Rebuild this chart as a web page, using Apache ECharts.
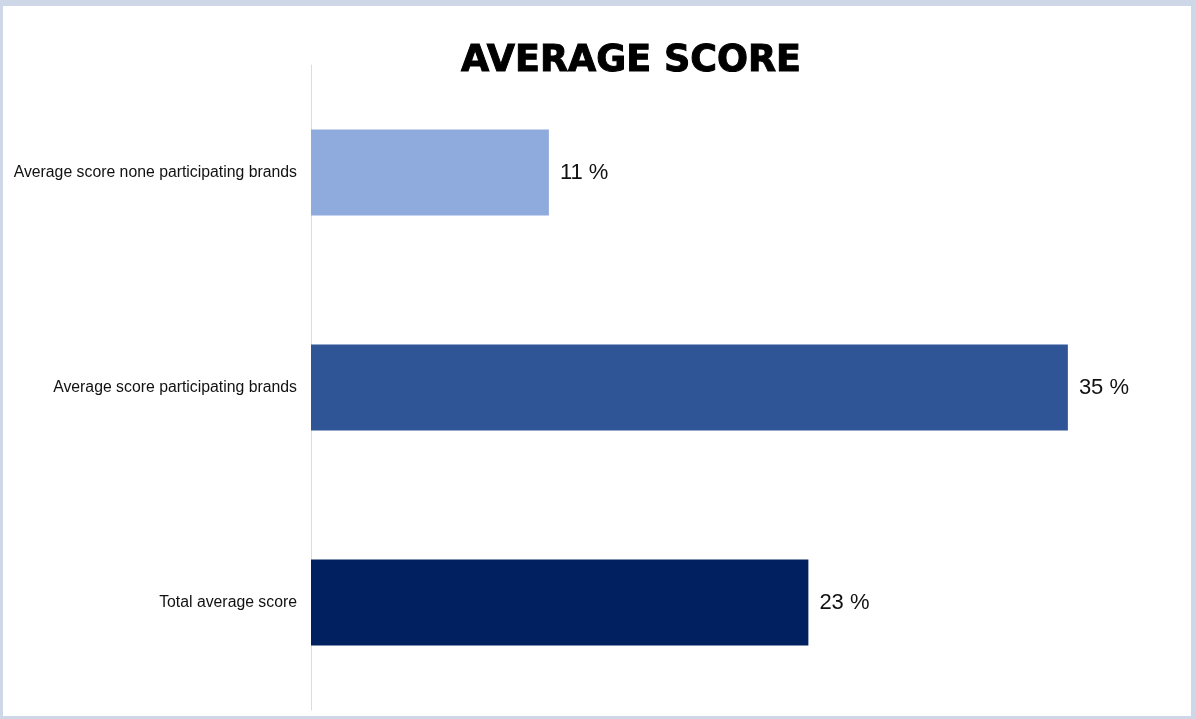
<!DOCTYPE html>
<html>
<head>
<meta charset="utf-8">
<script src="https://cdn.jsdelivr.net/npm/echarts@6/dist/echarts.min.js"></script>
<style>
  html, body { margin: 0; padding: 0; background: #fff; }
  #wrap { position: relative; width: 1196px; height: 719px; }
  #chart { position: absolute; left: 0; top: 0; width: 1196px; height: 719px; }
  #frame {
    position: absolute; left: 0; top: 0; width: 1196px; height: 719px;
    box-sizing: border-box; pointer-events: none;
    border-style: solid; border-color: #cdd7e7;
    border-width: 6px 5px 3px 3px;
  }
</style>
</head>
<body>
<div id="wrap">
  <div id="chart"></div>
  <div id="frame"></div>
</div>
<script>
// Categories listed top to bottom
const categories = [
  'Average score none participating brands',
  'Average score participating brands',
  'Total average score'
];
const scores = [11, 35, 23];
const barColors = ['#8faadc', '#2f5597', '#002060'];

const chart = echarts.init(document.getElementById('chart'), null, { renderer: 'canvas' });

chart.setOption({
  animation: false,
  backgroundColor: '#ffffff',
  title: {
    text: 'AVERAGE SCORE',
    left: 456,
    top: 38,
    textStyle: {
      fontFamily: 'DejaVu Sans, sans-serif',
      fontWeight: 'bold',
      fontSize: 36.5,
      color: '#000000',
      textBorderColor: '#000000',
      textBorderWidth: 1
    }
  },
  grid: { left: 311, top: 65, bottom: 9, width: 865, containLabel: false },
  xAxis: {
    type: 'value',
    min: 0,
    max: 40,
    show: false
  },
  yAxis: {
    type: 'category',
    inverse: true,
    data: categories,
    axisLine: { show: true, lineStyle: { color: '#dcdcdc', width: 1 } },
    axisTick: { show: false },
    axisLabel: {
      margin: 14,
      fontFamily: 'Liberation Sans, Arial, sans-serif',
      fontSize: 15.8,
      color: '#111111'
    }
  },
  series: [{
    type: 'bar',
    barWidth: 86,
    data: scores.map((v, i) => ({ value: v, itemStyle: { color: barColors[i] } })),
    label: {
      show: true,
      position: 'right',
      distance: 11,
      formatter: p => p.value + ' %',
      fontFamily: 'Liberation Sans, Arial, sans-serif',
      fontSize: 22,
      color: '#111111'
    }
  }]
});
</script>
</body>
</html>
